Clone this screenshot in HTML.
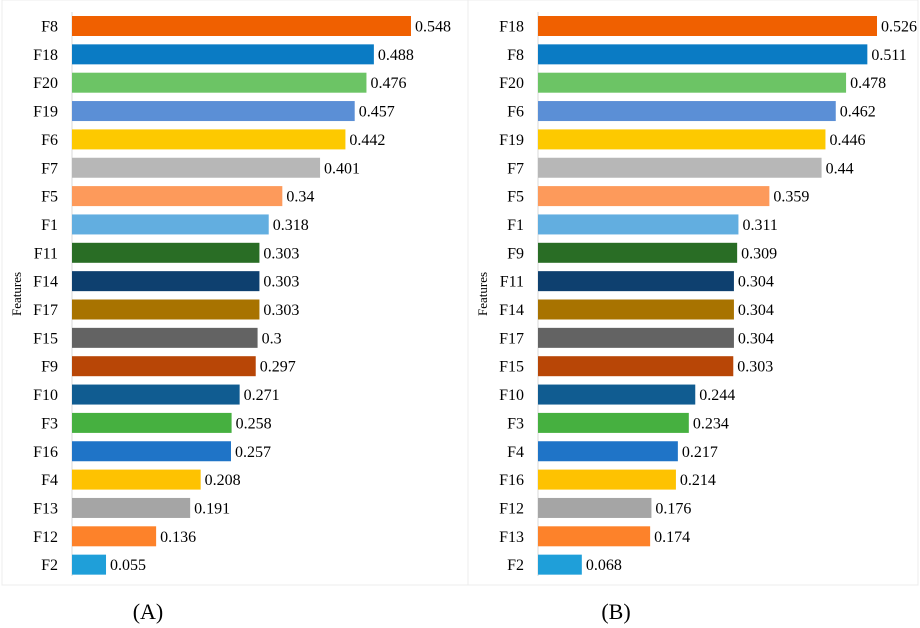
<!DOCTYPE html>
<html><head><meta charset="utf-8"><style>
html,body{margin:0;padding:0;background:#fff}
svg{display:block;font-family:"Liberation Serif","Times New Roman",serif}
</style></head><body>
<svg id="c" width="920" height="628"></svg>
<script>
const labelsA=["F8","F18","F20","F19","F6","F7","F5","F1","F11","F14","F17","F15","F9","F10","F3","F16","F4","F13","F12","F2"];
const valuesA=[0.548,0.488,0.476,0.457,0.442,0.401,0.34,0.318,0.303,0.303,0.303,0.3,0.297,0.271,0.258,0.257,0.208,0.191,0.136,0.055];
const textA=["0.548","0.488","0.476","0.457","0.442","0.401","0.34","0.318","0.303","0.303","0.303","0.3","0.297","0.271","0.258","0.257","0.208","0.191","0.136","0.055"];
const labelsB=["F18","F8","F20","F6","F19","F7","F5","F1","F9","F11","F14","F17","F15","F10","F3","F4","F16","F12","F13","F2"];
const valuesB=[0.526,0.511,0.478,0.462,0.446,0.44,0.359,0.311,0.309,0.304,0.304,0.304,0.303,0.244,0.234,0.217,0.214,0.176,0.174,0.068];
const textB=["0.526","0.511","0.478","0.462","0.446","0.44","0.359","0.311","0.309","0.304","0.304","0.304","0.303","0.244","0.234","0.217","0.214","0.176","0.174","0.068"];
const colors=["#f06000","#0a7bc4","#6cc465","#5b8fd6","#fdc900","#b7b7b7","#fd9a5b","#62aee0","#296d25","#0e406f","#a87300","#636363","#b84606","#105c91","#46b040","#1f74c7","#fec201","#a5a5a5","#fd822a","#1f9fd9"];
const NS="http://www.w3.org/2000/svg";
const svg=document.getElementById('c');
function mk(t,a,p){const e=document.createElementNS(NS,t);for(const k in a)e.setAttribute(k,a[k]);(p||svg).appendChild(e);return e;}
function panel(id,labels,values,texts,x0,scale,frameX,frameW,caption,capX){
  const g=mk('g',{});
  
  
  const fr=mk('rect',{x:frameX,y:0,width:frameW,height:585,fill:'none',stroke:'#ececec','stroke-width':1},g);
  
  
  const yPos=i=>16+i*28.35;
  const xs=v=>x0+v*scale;
  const ax=mk('line',{x1:x0,y1:12,x2:x0,y2:576,stroke:'#d9d9d9','stroke-width':1},g);
  
  
  labels.forEach((l,i)=>{
    const y=yPos(i);
    const r=mk('rect',{x:x0,y:y,width:xs(values[i])-x0,height:20,fill:colors[i]},g);
    
    
    const t=mk('text',{x:x0-14,y:y+15.5,'text-anchor':'end','font-size':16,fill:'#000'},g);
    t.textContent=l;
    
    
    const v=mk('text',{x:xs(values[i])+4,y:y+15.5,'font-size':16,fill:'#000'},g);
    v.textContent=texts[i];
    
    
  });
  const yt=mk('text',{x:0,y:0,'font-size':13,'text-anchor':'middle',transform:`translate(${x0-51},294) rotate(-90)`},g);
  yt.textContent='Features';
  
  
  const cp=mk('text',{x:capX,y:619,'font-size':22,'text-anchor':'middle'},g);
  cp.textContent=caption;
  
  
}
panel('a',labelsA,valuesA,textA,72,618.6,2,466,'(A)',148);
panel('b',labelsB,valuesB,textB,538,644.5,468,450,'(B)',616);
</script>
</body></html>
